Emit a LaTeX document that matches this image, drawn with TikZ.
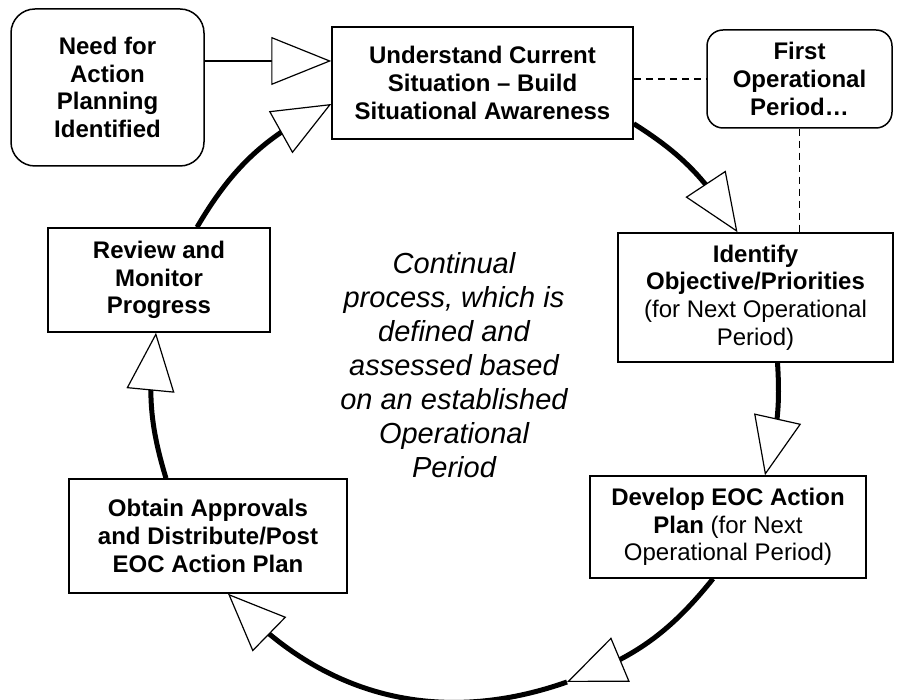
\documentclass[tikz,border=0pt]{standalone}
\usepackage{fontspec}
\setmainfont{Liberation Sans}
\usetikzlibrary{arrows.meta,bending,positioning}
\newcommand{\boxfont}{\fontsize{12}{13.8}\selectfont}
\tikzset{
    boxsty/.style={draw,line width=0.75pt,fill=white,rectangle,align=center,inner sep=2pt,font=\boxfont},
    boldsty/.style={boxsty,font=\boxfont\bfseries},
    rboxsty/.style={boldsty,rounded corners=12pt},
    cyclesty/.style={line width=2.5pt,-{Triangle[length=29pt,width=24pt,fill=white,line width=0.6pt,flex]}},
    flowsty/.style={line width=0.75pt,-{Triangle[length=30pt,width=24pt,fill=white,line width=0.6pt]}},
    linksty/.style={line width=0.6pt,dash pattern=on 3.5pt off 2.5pt},
    notesty/.style={align=center,font=\fontsize{14.5}{17}\selectfont\itshape},
}

\begin{document}
\begin{tikzpicture}[x=0.5pt,y=0.5pt]
  \useasboundingbox (0,0) rectangle (900,700);

  % steps of the cycle
  \node[boldsty, minimum width=150.5pt, minimum height=56pt] (und) at (482.5,617)
       {Understand Current\\Situation -- Build\\Situational Awareness};
  \node[boxsty, minimum width=137.5pt, minimum height=64.5pt] (idf) at (755.5,402.5)
       {\textbf{Identify}\\\textbf{Objective/Priorities}\\(for Next Operational\\Period)};
  \node[boxsty, minimum width=138pt, minimum height=51pt] (dev) at (728,173)
       {\textbf{Develop EOC Action}\\\textbf{Plan} (for Next\\Operational Period)};
  \node[boldsty, minimum width=139pt, minimum height=57pt] (obt) at (208,164)
       {Obtain Approvals\\and Distribute/Post\\EOC Action Plan};
  \node[boldsty, minimum width=111pt, minimum height=52pt] (rev) at (159,420)
       {Review and\\Monitor\\Progress};

  % side boxes
  \node[rboxsty, minimum width=96.5pt, minimum height=78.5pt] (need) at (107.5,612.5)
       {Need for\\Action\\Planning\\Identified};
  \node[rboxsty, rounded corners=8pt, minimum width=92.5pt, minimum height=49pt] (first) at (799.5,621)
       {First\\Operational\\Period\ldots};

  \node[notesty] (note) at (454,335)
       {Continual\\process, which is\\defined and\\assessed based\\on an established\\Operational\\Period};

  % the cycle
  \coordinate (bot) at (567,18);
  \draw[cyclesty] ([yshift=8pt]und.south east) to[bend left=14] ([xshift=-9pt]idf.north);
  \draw[cyclesty] ([xshift=11pt]idf.south) to[bend left=10] ([xshift=18.5pt]dev.north);
  \draw[cyclesty] ([xshift=-7.5pt]dev.south) to[bend left=16] (bot);
  \draw[cyclesty] (bot) to[bend left=34] ([xshift=10pt]obt.south);
  \draw[cyclesty] ([xshift=-21pt]obt.north) to[bend left=13] ([xshift=-1.5pt]rev.south);
  \draw[cyclesty] ([xshift=19pt]rev.north) to[bend left=17] ([yshift=-10.5pt]und.west);

  % entry arrow and dashed links
  \coordinate (undin) at ([yshift=11pt]und.west);
  \draw[flowsty] (need.east |- undin) -- (undin);
  \draw[linksty] (first.west -| und.east) -- (first.west);
  \draw[linksty] (first.south) -- (first.south |- idf.north);
\end{tikzpicture}
\end{document}
